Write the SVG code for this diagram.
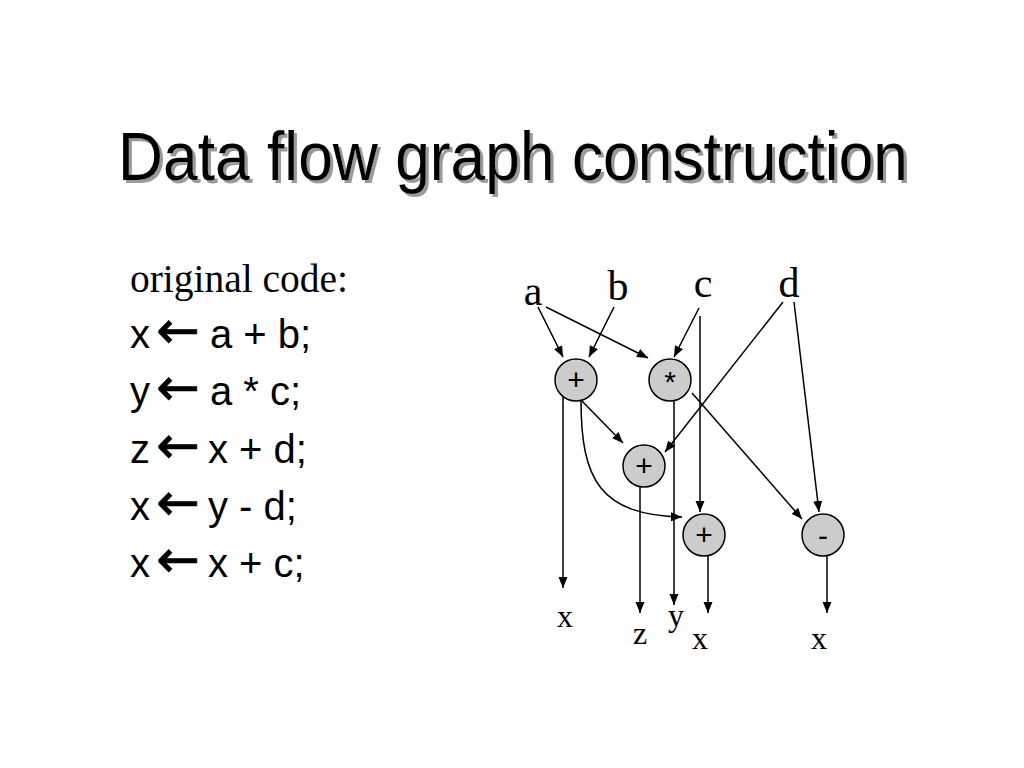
<svg xmlns="http://www.w3.org/2000/svg" width="1024" height="768" viewBox="0 0 1024 768">
<defs>
<marker id="ah" markerUnits="userSpaceOnUse" markerWidth="12" markerHeight="10" refX="11" refY="4.5" orient="auto">
<path d="M0,0 L11,4.5 L0,9 z" fill="#000"/>
</marker>
<filter id="sh" x="-5%" y="-20%" width="110%" height="140%">
<feDropShadow dx="3" dy="3" stdDeviation="0.6" flood-color="#9a9a9a" flood-opacity="1"/>
</filter>
</defs>
<style>
.title{font-family:"Liberation Sans",Arial,sans-serif;font-size:68px}
.serif{font-family:"Liberation Serif","Times New Roman",serif;fill:#000}
.code{font-family:"Liberation Sans",Arial,sans-serif;font-size:40px;fill:#000}
.arr{font-family:"DejaVu Sans",sans-serif;font-size:52px;stroke:#000;stroke-width:0.8}
.node circle{fill:#cccccc;stroke:#000;stroke-width:1.5}
.node text{font-family:"Liberation Sans",Arial,sans-serif;font-size:30px;text-anchor:middle;fill:#000}
.edges path{fill:none;stroke:#000;stroke-width:1.5;marker-end:url(#ah)}
.lbl{font-family:"Liberation Serif","Times New Roman",serif;text-anchor:middle;fill:#000}
</style>
<rect width="1024" height="768" fill="#fff"/>
<g id="title">
<text class="title" x="118" y="180" fill="#000" filter="url(#sh)" textLength="790" lengthAdjust="spacingAndGlyphs">Data flow graph construction</text>
</g>
<g id="code">
<text class="serif" x="130" y="292" font-size="39" textLength="218" lengthAdjust="spacingAndGlyphs">original code:</text>
<text class="code" y="348"><tspan x="130">x</tspan><tspan class="arr" x="156">←</tspan><tspan x="210">a + b;</tspan></text>
<text class="code" y="405"><tspan x="130">y</tspan><tspan class="arr" x="156">←</tspan><tspan x="210">a * c;</tspan></text>
<text class="code" y="463"><tspan x="130">z</tspan><tspan class="arr" x="156">←</tspan><tspan x="208">x + d;</tspan></text>
<text class="code" y="520"><tspan x="130">x</tspan><tspan class="arr" x="156">←</tspan><tspan x="208">y - d;</tspan></text>
<text class="code" y="577"><tspan x="130">x</tspan><tspan class="arr" x="156">←</tspan><tspan x="208">x + c;</tspan></text>
</g>
<g id="inputs">
<text class="lbl" x="533" y="305" font-size="42">a</text>
<text class="lbl" x="618" y="300" font-size="42">b</text>
<text class="lbl" x="703" y="297" font-size="42">c</text>
<text class="lbl" x="789" y="297" font-size="42">d</text>
</g>
<g id="outputs">
<text class="lbl" x="565" y="627" font-size="32">x</text>
<text class="lbl" x="640" y="644" font-size="32">z</text>
<text class="lbl" x="676" y="626" font-size="32">y</text>
<text class="lbl" x="700" y="649" font-size="32">x</text>
<text class="lbl" x="819" y="649" font-size="32">x</text>
</g>
<g class="edges" id="connectors">
<path d="M538,307 L563,357"/>
<path d="M546,307 L648,358"/>
<path d="M614,307 L589,357"/>
<path d="M699,308 L674,357"/>
<path d="M700,316 L700,512"/>
<path d="M783,302 L665,452"/>
<path d="M794,302 L819,512"/>
<path d="M563,397 L563,588"/>
<path d="M581,400 L623,443"/>
<path d="M581,400 C581,480 600,515 682,517"/>
<path d="M674,400 L674,605"/>
<path d="M692,393 L802,519"/>
<path d="M640,487 L640,613"/>
<path d="M708,556 L708,613"/>
<path d="M827,556 L827,613"/>
</g>
<g class="node" id="n_add1"><circle cx="576" cy="380" r="21"/><text x="576" y="390">+</text></g>
<g class="node" id="n_mul"><circle cx="670" cy="380" r="21"/><text x="670" y="392">*</text></g>
<g class="node" id="n_add2"><circle cx="644" cy="466" r="21"/><text x="644" y="476">+</text></g>
<g class="node" id="n_add3"><circle cx="704" cy="535" r="21"/><text x="704" y="545">+</text></g>
<g class="node" id="n_sub"><circle cx="823" cy="535" r="21"/><text x="823" y="546">-</text></g>
</svg>
